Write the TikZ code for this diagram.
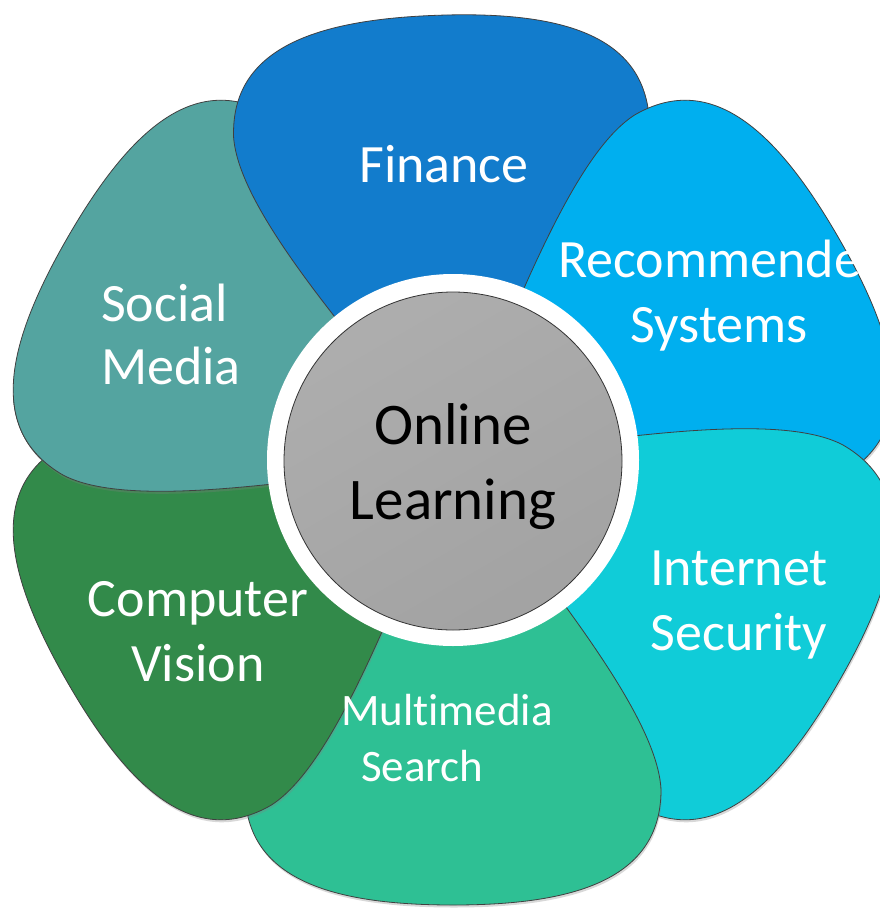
\documentclass[tikz,border=0pt]{standalone}
\usepackage{fontspec}
\setmainfont{Carlito}[Ligatures=NoCommon]
\usepackage{tikz}
\usetikzlibrary{shadows}

\definecolor{financeblue}{RGB}{18,124,204}
\definecolor{recblue}{RGB}{0,175,239}
\definecolor{netcyan}{RGB}{16,204,216}
\definecolor{mediagreen}{RGB}{46,192,148}
\definecolor{visiongreen}{RGB}{50,138,74}
\definecolor{socialteal}{RGB}{84,164,160}
\definecolor{centergray}{RGB}{171,171,171}

\tikzset{
  petal/.style={fill=#1, draw=black!75, line width=0.8pt,
    drop shadow={shadow xshift=1pt, shadow yshift=-2.5pt, opacity=0.3}},
  petaltext/.style={text=white, align=center, inner sep=0pt,
    font=\fontsize{54}{65}\selectfont}
}

% one petal, tip at the origin, opening upwards
\newcommand{\petalshape}{(0,0) .. controls (-110,140) and (-205,260) .. (-208,330)
  .. controls (-208,420) and (-120,445) .. (0,445)
  .. controls (120,445) and (208,420) .. (208,330)
  .. controls (205,260) and (110,140) .. (0,0) -- cycle}

\begin{document}
\begin{tikzpicture}[x=1pt, y=1pt]

\useasboundingbox (0,0) rectangle (880,-913);
\fill [white] (0,0) rectangle (880,-913);
\clip (0,0) rectangle (880,-913);

\begin{scope}[shift={(453,-460)}]
\path [petal=socialteal, rotate=60] \petalshape;
\path [petal=financeblue, rotate=2] \petalshape;
\path [petal=recblue, rotate=-60] \petalshape;
\path [petal=netcyan, rotate=-120] \petalshape;
\path [petal=mediagreen, rotate=180] \petalshape;
\path [petal=visiongreen, rotate=120] \petalshape;
% social media lies over computer vision
\begin{scope}
\clip (-460,60) rectangle (0,-300);
\path [petal=socialteal, rotate=60] \petalshape;
\end{scope}
\end{scope}

\node [circle, fill=white, minimum size=372pt, inner sep=0pt] (ring) at (453,-460) {};
\node [circle, top color=centergray!97!white, bottom color=centergray!95!black,
  shading angle=30, draw=black!80, line width=0.8pt, minimum size=338pt,
  inner sep=0pt] (hub) at (453,-461) {};
\node [align=center, inner sep=0pt, font=\fontsize{59}{75}\selectfont] (online)
  at ([yshift=-6pt]hub.center) {Online\\Learning};

\node [petaltext] (finance) at (444,-164) {Finance};
\node [petaltext] (recommender) at (719,-296) {Recommende\phantom{r}\\Systems};
\node [petaltext] (security) at (739,-605) {Internet\\Security};
\node [petaltext, align=left, font=\fontsize{45}{56}\selectfont] (multimedia) at (447,-738)
  {Multimedia\\\hspace*{20pt}Search};
\node [petaltext] (vision) at (198,-632) {Computer\\Vision};
\node [petaltext, align=left, font=\fontsize{54}{63}\selectfont] (social) at (171,-334) {Social\\Media};

\end{tikzpicture}
\end{document}
